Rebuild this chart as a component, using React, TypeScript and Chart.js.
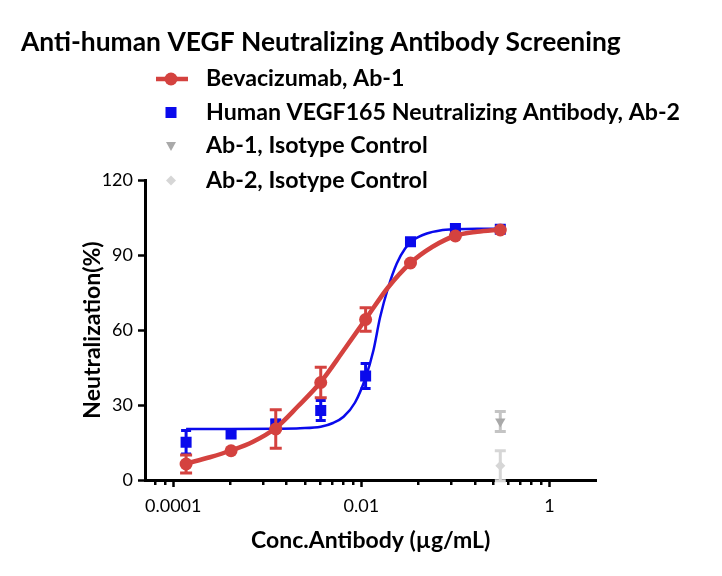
import React, { useEffect, useRef } from 'react';
import { Chart, registerables } from 'chart.js';

Chart.register(...registerables);

// ---------- data ----------
const concentrations = [0.000137, 0.000412, 0.00123, 0.0037, 0.0111, 0.0333, 0.1, 0.3];
const bevacizumabMean = [6.4, 11.7, 20.4, 39.0, 64.2, 86.8, 97.6, 100.0];
const bevacizumabSD = [3.6, 0, 7.7, 6.1, 4.7, 0, 0, 0];
const ab2Mean = [15.1, 18.4, 22.4, 27.8, 41.6, 95.3, 100.6, 100.3];
const ab2SD = [4.7, 1.0, 1.5, 4.0, 5.0, 0, 0, 0];

const isotypeConc = [0.3];
const ab1IsotypeMean = [23.4];
const ab1IsotypeSD = [4.0];
const ab2IsotypeMean = [5.7];
const ab2IsotypeSD = [6.0];

// fitted curves
const bevaFitX = [0.000137, 0.000245, 0.000412, 0.000705, 0.00123, 0.00212, 0.0037, 0.00647, 0.0111, 0.0192, 0.0333, 0.0571, 0.1, 0.17, 0.3];
const bevaFitY = [6.6, 9.1, 11.8, 15.3, 20.8, 29.5, 39.2, 51.8, 64.3, 77.0, 86.8, 93.3, 97.7, 99.3, 100.2];
const ab2FitX = [0.000137, 0.000412, 0.00123, 0.00223, 0.0037, 0.005, 0.00647, 0.00857, 0.0111, 0.01343, 0.0158, 0.01936, 0.0238, 0.0292, 0.0357, 0.0497, 0.0687, 0.1, 0.17, 0.3];
const ab2FitY = [20.4, 20.4, 20.5, 20.7, 21.3, 22.8, 25.3, 31.0, 41.0, 51.8, 65.0, 77.2, 86.6, 92.6, 96.0, 98.6, 99.8, 100.3, 100.5, 100.5];

const xMajorTicks = [0.0001, 0.01, 1];
const xTickLabels = ['0.0001', '0.01', '1'];
const xMinorTicks = [0.000064, 0.000081, 0.0004, 0.0009, 0.0016, 0.0025, 0.0036, 0.0049, 0.0064, 0.0081, 0.04, 0.09, 0.16, 0.25, 0.36, 0.49, 0.64, 0.81];
const yTicks = [0, 30, 60, 90, 120];
const yTickLabels = ['0', '30', '60', '90', '120'];

const titleText = 'Anti-human VEGF Neutralizing Antibody Screening';
const legendLabels = [
  'Bevacizumab, Ab-1',
  'Human VEGF165 Neutralizing Antibody, Ab-2',
  'Ab-1, Isotype Control',
  'Ab-2, Isotype Control',
];
const xTitle = 'Conc.Antibody (\u00b5g/mL)';
const yTitle = 'Neutralization(%)';

// ---------- styles ----------
const RED = '#d4423f';
const BLUE = '#0a0aec';
const GRAY1 = '#a9a9a9';
const GRAY1_ERR = '#c4c4c4';
const GRAY2 = '#d6d6d6';
const FONT = 'Lato';

const pts = (xs: number[], ys: number[]) => xs.map((x, i) => ({ x, y: ys[i] }));

const errorBarPlugin = {
  id: 'errorBars',
  beforeDatasetDraw(chart: any, args: any) {
    const ds = chart.data.datasets[args.index];
    if (!ds.errors) return;
    const yScale = chart.scales.y;
    const ctx = chart.ctx;
    ctx.save();
    ctx.strokeStyle = ds.errorColor;
    ctx.lineWidth = ds.errorWidth;
    args.meta.data.forEach((pt: any, i: number) => {
      const e = ds.errors[i];
      if (!e) return;
      const v = ds.data[i].y;
      const x = pt.x;
      const yT = yScale.getPixelForValue(v + e);
      const yB = yScale.getPixelForValue(v - e);
      const c = ds.capHalf;
      ctx.beginPath();
      ctx.moveTo(x, yT);
      ctx.lineTo(x, yB);
      ctx.moveTo(x - c, yT);
      ctx.lineTo(x + c, yT);
      ctx.moveTo(x - c, yB);
      ctx.lineTo(x + c, yB);
      ctx.stroke();
    });
    ctx.restore();
  },
};

const decorPlugin = {
  id: 'decor',
  afterDraw(chart: any) {
    const ctx = chart.ctx;
    const xs = chart.scales.x;
    const area = chart.chartArea;
    ctx.save();
    // minor ticks
    ctx.strokeStyle = '#000';
    ctx.lineWidth = 2.5;
    xMinorTicks.forEach((v) => {
      const px = Math.round(xs.getPixelForValue(v)) + 0.25;
      if (px < area.left + 2 || px > area.right) return;
      ctx.beginPath();
      ctx.moveTo(px, area.bottom);
      ctx.lineTo(px, area.bottom + 5);
      ctx.stroke();
    });
    // title
    ctx.fillStyle = '#000';
    ctx.textBaseline = 'middle';
    ctx.textAlign = 'left';
    ctx.font = `bold 26.4px ${FONT}`;
    ctx.fillText(titleText, 21, 42);
    // legend
    const rows = [79, 112.5, 146, 180.5];
    const mx = 171;
    ctx.font = `bold 23.2px ${FONT}`;
    legendLabels.forEach((t, i) => {
      ctx.fillStyle = '#000';
      ctx.fillText(t, 206, rows[i]);
    });
    // markers
    const y0 = rows[0];
    ctx.strokeStyle = RED;
    ctx.lineWidth = 4.5;
    ctx.beginPath();
    ctx.moveTo(156, y0);
    ctx.lineTo(188, y0);
    ctx.stroke();
    ctx.fillStyle = RED;
    ctx.beginPath();
    ctx.arc(mx, y0, 6.5, 0, Math.PI * 2);
    ctx.fill();
    ctx.fillStyle = BLUE;
    ctx.fillRect(mx - 5.5, rows[1] - 5.5, 11, 11);
    ctx.fillStyle = GRAY1;
    ctx.beginPath();
    ctx.moveTo(mx - 5, rows[2] - 4);
    ctx.lineTo(mx + 5, rows[2] - 4);
    ctx.lineTo(mx, rows[2] + 5);
    ctx.closePath();
    ctx.fill();
    ctx.fillStyle = GRAY2;
    ctx.beginPath();
    ctx.moveTo(mx, rows[3] - 5);
    ctx.lineTo(mx + 5, rows[3]);
    ctx.lineTo(mx, rows[3] + 5);
    ctx.lineTo(mx - 5, rows[3]);
    ctx.closePath();
    ctx.fill();
    ctx.restore();
  },
};

export default function App() {
  const ref = useRef<HTMLCanvasElement | null>(null);
  useEffect(() => {
    if (!ref.current) return;
    const tickFont = { family: FONT, size: 18 };
    const titleFont = { family: FONT, size: 23, weight: 'bold' as const };
    const chart = new Chart(ref.current, {
      type: 'line',
      data: {
        datasets: [
          {
            label: legendLabels[0],
            data: pts(concentrations, bevacizumabMean),
            showLine: false,
            pointStyle: 'circle',
            pointRadius: 6.5,
            pointBorderWidth: 0,
            pointBackgroundColor: RED,
            borderColor: RED,
            errors: bevacizumabSD,
            errorColor: RED,
            errorWidth: 3,
            capHalf: 6,
          } as any,
          {
            label: 'fit1',
            data: pts(bevaFitX, bevaFitY),
            showLine: true,
            pointRadius: 0,
            borderColor: RED,
            borderWidth: 4.5,
            cubicInterpolationMode: 'monotone',
            fill: false,
          },
          {
            label: legendLabels[1],
            data: pts(concentrations, ab2Mean),
            showLine: false,
            pointStyle: 'rect',
            pointRadius: 7.8,
            pointBorderWidth: 0,
            pointBackgroundColor: BLUE,
            borderColor: BLUE,
            errors: ab2SD,
            errorColor: BLUE,
            errorWidth: 3,
            capHalf: 5,
          } as any,
          {
            label: 'fit2',
            data: pts(ab2FitX, ab2FitY),
            showLine: true,
            pointRadius: 0,
            borderColor: BLUE,
            borderWidth: 2.5,
            cubicInterpolationMode: 'monotone',
            fill: false,
          },
          {
            label: legendLabels[2],
            data: pts(isotypeConc, ab1IsotypeMean),
            showLine: false,
            pointStyle: 'triangle',
            rotation: 180,
            pointRotation: 180,
            pointRadius: 6,
            pointBorderWidth: 0,
            pointBackgroundColor: GRAY1,
            borderColor: GRAY1,
            errors: ab1IsotypeSD,
            errorColor: GRAY1_ERR,
            errorWidth: 3,
            capHalf: 5.5,
          } as any,
          {
            label: legendLabels[3],
            data: pts(isotypeConc, ab2IsotypeMean),
            showLine: false,
            pointStyle: 'rectRot',
            pointRadius: 5,
            pointBorderWidth: 0,
            pointBackgroundColor: GRAY2,
            borderColor: GRAY2,
            errors: ab2IsotypeSD,
            errorColor: GRAY2,
            errorWidth: 3,
            capHalf: 5.5,
          } as any,
        ],
      },
      options: {
        responsive: false,
        animation: false,
        events: [],
        layout: { padding: { top: 180, left: 0, right: 125.5, bottom: 0 } },
        plugins: { legend: { display: false }, tooltip: { enabled: false }, title: { display: false } },
        scales: {
          x: {
            type: 'logarithmic',
            min: 0.0000501,
            max: 3.162,
            afterBuildTicks: (s: any) => {
              s.ticks = xMajorTicks.map((v) => ({ value: v }));
            },
            afterFit: (s: any) => {
              s.height = 96;
            },
            ticks: {
              autoSkip: false,
              maxRotation: 0,
              padding: 8,
              color: '#000',
              font: tickFont,
              callback: (v: any) => {
                const i = xMajorTicks.indexOf(Number(v));
                return i >= 0 ? xTickLabels[i] : '';
              },
            },
            grid: { drawOnChartArea: false, drawTicks: true, tickLength: 7, tickWidth: 2.5, tickColor: '#000' },
            border: { display: true, width: 3, color: '#000' },
            title: { display: true, text: xTitle, color: '#000', font: titleFont, padding: { top: 0, bottom: 22 } },
          },
          y: {
            type: 'linear',
            min: 0,
            max: 120,
            afterBuildTicks: (s: any) => {
              s.ticks = yTicks.map((v) => ({ value: v }));
            },
            afterFit: (s: any) => {
              s.width = 145;
            },
            ticks: {
              padding: 5,
              color: '#000',
              font: tickFont,
              callback: (v: any) => {
                const i = yTicks.indexOf(Number(v));
                return i >= 0 ? yTickLabels[i] : '';
              },
            },
            grid: { drawOnChartArea: false, drawTicks: true, tickLength: 7, tickWidth: 2.5, tickColor: '#000' },
            border: { display: true, width: 3, color: '#000' },
            title: { display: true, text: yTitle, color: '#000', font: titleFont, padding: { top: 79, bottom: 0 } },
          },
        },
      } as any,
      plugins: [errorBarPlugin, decorPlugin],
    });
    return () => chart.destroy();
  }, []);
  return (
    <div style={{ position: 'absolute', left: 0, top: 0, width: 722, height: 576, background: '#fff' }}>
      <canvas ref={ref} width={722} height={576} style={{ width: 722, height: 576, display: 'block' }} />
    </div>
  );
}
